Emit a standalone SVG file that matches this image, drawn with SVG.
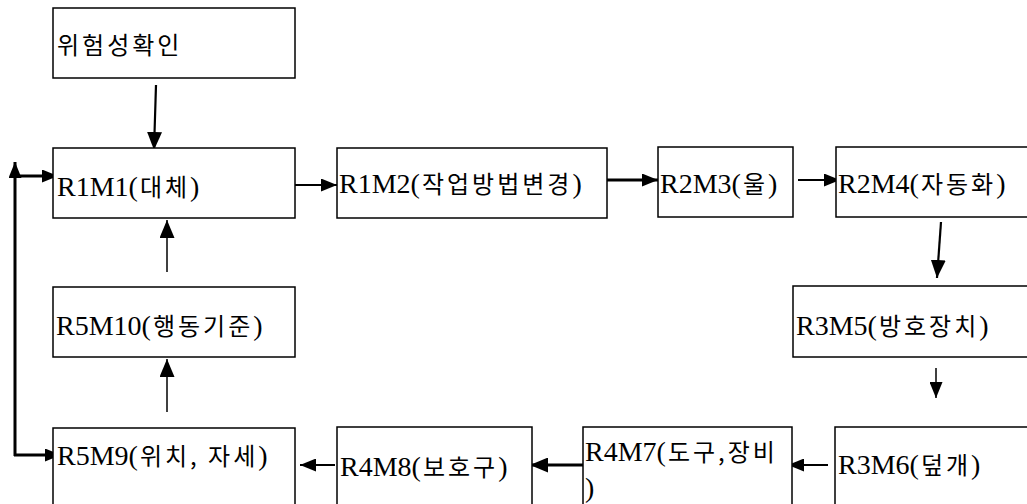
<svg xmlns="http://www.w3.org/2000/svg" width="1027" height="504" viewBox="0 0 1027 504">
<style>
.box{fill:#fff;stroke:#000;stroke-width:1.5}
.t{font-family:"Liberation Serif","Noto Sans CJK KR",serif;font-size:28px;fill:#000}
.k{font-family:"Noto Sans CJK KR",sans-serif;font-size:24px;letter-spacing:3px}
.c{stroke:#000;fill:none;stroke-width:2.2}
.thick{stroke-width:3}
.thin{stroke-width:1.5}
</style>
<defs>
<marker id="ah" viewBox="0 0 16 13" refX="16" refY="6.5" markerWidth="16" markerHeight="13" markerUnits="userSpaceOnUse" orient="auto">
<path d="M0,0 L16,6.5 L0,13 Z" fill="#000"/>
</marker>
<marker id="ahL" viewBox="0 0 18 15" refX="18" refY="7.5" markerWidth="18" markerHeight="15" markerUnits="userSpaceOnUse" orient="auto">
<path d="M0,0 L18,7.5 L0,15 Z" fill="#000"/>
</marker>
</defs>
<rect width="1027" height="504" fill="#fff"/>
<g id="connectors">
<line class="c" x1="156" y1="85" x2="154" y2="150" marker-end="url(#ahL)"/>
<line class="c" x1="295" y1="185" x2="337" y2="185" marker-end="url(#ah)"/>
<line class="c thick" x1="607" y1="180" x2="658" y2="180" marker-end="url(#ah)"/>
<line class="c" x1="798" y1="180" x2="840" y2="180" marker-end="url(#ah)"/>
<line class="c" x1="941" y1="222" x2="937" y2="278" marker-end="url(#ahL)"/>
<line class="c thin" x1="936" y1="368" x2="936" y2="398" marker-end="url(#ah)"/>
<line class="c" x1="828" y1="465" x2="788" y2="465" marker-end="url(#ah)"/>
<line class="c thick" x1="583" y1="465" x2="530" y2="465" marker-end="url(#ahL)"/>
<line class="c" x1="335" y1="465" x2="300" y2="465" marker-end="url(#ah)"/>
<line class="c thin" x1="167" y1="412" x2="167" y2="359" marker-end="url(#ahL)"/>
<line class="c thin" x1="167" y1="272" x2="167" y2="220" marker-end="url(#ahL)"/>
<line class="c thick" x1="15" y1="456" x2="15" y2="162" marker-end="url(#ah)"/>
<line class="c thick" x1="15" y1="176" x2="58" y2="176" marker-end="url(#ah)"/>
<line class="c thick" x1="14" y1="455" x2="61" y2="455" marker-end="url(#ah)"/>
</g>
<g id="n0"><rect class="box" x="53" y="8" width="242" height="70"/><text class="t" x="57" y="54"><tspan class="k">위험성확인</tspan></text></g>
<g id="n1"><rect class="box" x="53" y="148" width="242" height="70"/><text class="t" x="57" y="196">R1M1(<tspan class="k" dx="2">대체</tspan>)</text></g>
<g id="n2"><rect class="box" x="337" y="148" width="270" height="70"/><text class="t" x="339" y="193">R1M2(<tspan class="k" dx="2">작업방법변경</tspan>)</text></g>
<g id="n3"><rect class="box" x="658" y="147" width="135" height="70"/><text class="t" x="660" y="193">R2M3(<tspan class="k" dx="2">울</tspan>)</text></g>
<g id="n4"><rect class="box" x="836" y="147" width="200" height="70"/><text class="t" x="838" y="193">R2M4(<tspan class="k" dx="2">자동화</tspan>)</text></g>
<g id="n5"><rect class="box" x="793" y="286" width="243" height="71"/><text class="t" x="796" y="335">R3M5(<tspan class="k" dx="2">방호장치</tspan>)</text></g>
<g id="n6"><rect class="box" x="835" y="427" width="201" height="85"/><text class="t" x="838" y="474">R3M6(<tspan class="k" dx="2">덮개</tspan>)</text></g>
<g id="n7"><rect class="box" x="583" y="427" width="209" height="85"/><text class="t" x="585" y="461">R4M7(<tspan class="k" dx="2">도구,장비</tspan><tspan x="585" y="497">)</tspan></text></g>
<g id="n8"><rect class="box" x="337" y="427" width="195" height="85"/><text class="t" x="340" y="476">R4M8(<tspan class="k" dx="2">보호구</tspan>)</text></g>
<g id="n9"><rect class="box" x="53" y="428" width="242" height="85"/><text class="t" x="57" y="465">R5M9(<tspan class="k" dx="2">위치, 자세</tspan>)</text></g>
<g id="n10"><rect class="box" x="53" y="287" width="242" height="70"/><text class="t" x="56" y="335">R5M10(<tspan class="k" dx="2">행동기준</tspan>)</text></g>
</svg>
